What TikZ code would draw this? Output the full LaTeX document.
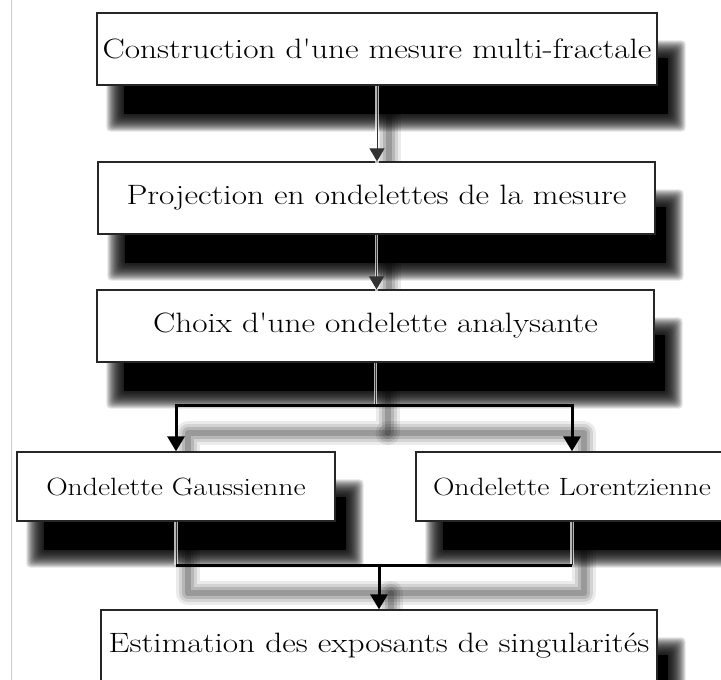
\documentclass[tikz,border=0pt]{standalone}
\usepackage{fontspec}
\usepackage{graphicx}
\usetikzlibrary{arrows.meta}
\pgfdeclarelayer{bgfill}
\pgfdeclarelayer{back}
\pgfsetlayers{bgfill,back,main}
\newcommand\hs[1]{\scalebox{1.19}[1]{#1}}
\newcommand\blurpath[1]{\foreach \w/\o in {24/0.08,18/0.10,12/0.13,6/0.16}{\draw[line width=\w pt, black, opacity=\o, line cap=round, line join=round] #1;}}
\newcommand\nshadow[1]{%
  \foreach \i in {0,...,18}{%
    \pgfmathsetmacro\r{9-\i}%
    \fill[black, opacity=0.11, rounded corners=4pt]
      ([shift={({19pt-(\r pt)},{-37pt-(\r pt)})}]#1.south west) rectangle
      ([shift={({19pt+(\r pt)},{-37pt+(\r pt)})}]#1.north east);}%
  \fill[black] ([shift={(28pt,-28pt)}]#1.south west) rectangle ([shift={(10pt,-46pt)}]#1.north east);}
\tikzset{
  box/.style={draw=black!85, line width=1.3pt, fill=white, inner sep=0pt, align=center},
  mainbox/.style={box, minimum width=557pt, minimum height=72pt, font=\fontsize{28}{31}\selectfont},
  subbox/.style={box, minimum height=69pt, font=\fontsize{25}{28}\selectfont},
  halo/.style={draw=white, opacity=0.7, line width=3.5pt},
  thinline/.style={draw=black!80, line width=1pt},
  thinarrow/.style={thinline, -{Triangle[width=15pt,length=13pt]}},
  thickline/.style={draw=black, line width=3pt},
  thickarrow/.style={thickline, -{Triangle[width=17pt,length=15pt]}}
}
\begin{document}
\begin{tikzpicture}[x=1pt,y=-1pt]
\clip (0,0) rectangle (721,680);
\begin{pgfonlayer}{bgfill}
\fill[white] (0,0) rectangle (721,680);
\draw[black!20, line width=1pt] (11.5,0) -- (11.5,680);
\end{pgfonlayer}
\node[mainbox, minimum width=560pt] (b1) at (377,49) {\hs{Construction d\textquotesingle une mesure multi-fractale}};
\node[mainbox] (b2) at (376.5,198) {\hs{Projection en ondelettes de la mesure}};
\node[mainbox] (b3) at (375.5,326) {\hs{Choix d\textquotesingle une ondelette analysante}};
\node[subbox, minimum width=318pt] (g) at (176,486.5) {\hs{Ondelette Gaussienne}};
\node[subbox, minimum width=312pt] (l) at (572,486.5) {\hs{Ondelette Lorentzienne}};
\node[mainbox, minimum width=556pt] (b5) at (379,646) {\hs{Estimation des exposants de singularités}};
\coordinate (j1) at (b3.south |- 0,405);
\coordinate (j2) at (379,565);
\begin{pgfonlayer}{back}
\begin{scope}[transform canvas={shift={(12pt,-28pt)}}]
\blurpath{(b1.south) -- (b1.south |- b2.north)}
\blurpath{(b2.south) -- (b2.south |- b3.north)}
\blurpath{(b3.south) -- (j1) -| (g.north)}
\blurpath{(j1) -| (l.north)}
\blurpath{(g.south) |- (j2) -| (l.south)}
\blurpath{(j2) -- (j2 |- b5.north)}
\end{scope}
\nshadow{b1}
\nshadow{b2}
\nshadow{b3}
\nshadow{g}
\nshadow{l}
\nshadow{b5}
\end{pgfonlayer}
\draw[halo] (b1.south) -- ([yshift=-12pt]b1.south |- b2.north);
\draw[thinarrow] (b1.south) -- (b1.south |- b2.north);
\draw[halo] (b2.south) -- ([yshift=-12pt]b2.south |- b3.north);
\draw[thinarrow] (b2.south) -- (b2.south |- b3.north);
\draw[halo] (b3.south) -- (j1);
\draw[thinline] (b3.south) -- (j1);
\draw[thickarrow] (j1) -| (g.north);
\draw[thickarrow] (j1) -| (l.north);
\draw[halo] (g.south) -- (g.south |- j2);
\draw[thinline] (g.south) -- (g.south |- j2);
\draw[halo] (l.south) -- (l.south |- j2);
\draw[thinline] (l.south) -- (l.south |- j2);
\draw[thickline] (g.south |- j2) -- (l.south |- j2);
\draw[thickarrow] (j2) -- (j2 |- b5.north);
\end{tikzpicture}
\end{document}
